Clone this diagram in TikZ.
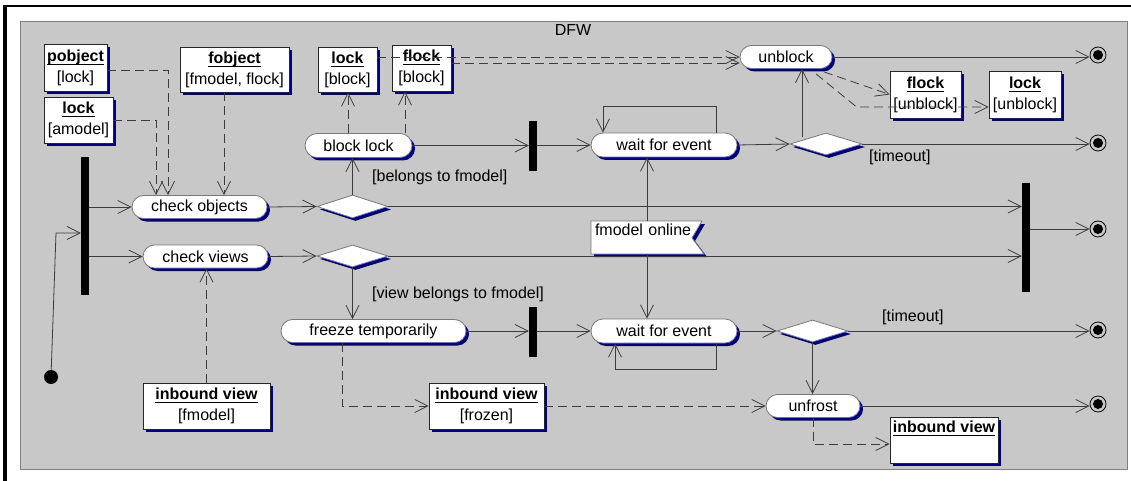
\documentclass[tikz,border=0pt]{standalone}
\usepackage{fontspec}
\setmainfont{Liberation Sans}
\usetikzlibrary{arrows.meta,shapes.misc,shapes.geometric,shadows,calc}

\definecolor{panelgray}{RGB}{200,200,200}
\definecolor{panelline}{RGB}{128,128,128}
\definecolor{shadowblue}{RGB}{0,0,128}
\definecolor{wire}{RGB}{60,60,60}
\definecolor{rimgray}{RGB}{120,120,120}

% bold object name with a rule underneath
\newcommand\objtitle[1]{\setbox0=\hbox{\bfseries #1}\leavevmode\rlap{\rule[-3pt]{\wd0}{0.6pt}}\box0}

\tikzset{
  uml/.style={font=\fontsize{16}{21}\selectfont},
  navyshadow/.style={drop shadow={shadow xshift=3pt,shadow yshift=-3pt,fill=shadowblue,opacity=1}},
  activity/.style={rounded rectangle, draw=rimgray, line width=0.8pt, fill=white, inner sep=0pt, navyshadow},
  objbox/.style={rectangle, draw=black!85, line width=0.8pt, fill=white, inner sep=0pt, align=center, navyshadow},
  choice/.style={diamond, draw=rimgray, line width=0.8pt, fill=white, inner sep=0pt, navyshadow},
  syncbar/.style={rectangle, fill=black, inner sep=0pt, minimum width=8pt},
  startdot/.style={circle, fill=black, inner sep=0pt, minimum size=14pt},
  enddot/.style={circle, draw=black, line width=0.8pt, inner sep=0pt, minimum size=16pt,
    path picture={\fill[black] (path picture bounding box.center) circle (5pt);}},
  flow/.style={draw=wire, line width=0.8pt, -{Straight Barb[length=13pt,width=13pt,line width=0.8pt]}},
  objflow/.style={flow, dash pattern=on 9pt off 5pt},
  guard/.style={anchor=west, inner sep=0pt},
}

\begin{document}
\begin{tikzpicture}[x=1pt,y=-1pt,uml]
\useasboundingbox (0,0) rectangle (1131,481);
\fill[white] (0,0) rectangle (1131,481);
\draw[line width=2.5pt] (3,6) -- (1131,6);
\draw[line width=3.5pt] (5,4.75) -- (5,481);
\draw[panelline, fill=panelgray, line width=1pt] (20,22) rectangle (1127,469);
\node (title) at (573,30) {DFW};

% signal flag
\fill[shadowblue] (594,224) -- (705,224) -- (695,241) -- (707,257) -- (594,257) -- cycle;
\draw[rimgray, fill=white, line width=0.8pt] (591,221) -- (702,221) -- (692,238) -- (704,254) -- (591,254) -- cycle;
\node[inner sep=0pt, minimum width=113pt, minimum height=33pt, text width=104pt, align=left,
      text height=11pt, text depth=16pt] (online) at (647,237.5) {fmodel online};

% activities
\node[activity, minimum width=135pt, minimum height=23pt] (cobj) at (199.5,207) {check objects};
\node[activity, minimum width=125pt, minimum height=23pt] (cview) at (205.5,256.5) {check views};
\node[activity, minimum width=107pt, minimum height=24pt] (blockl) at (358.5,145.5) {block lock};
\node[activity, minimum width=146pt, minimum height=24pt] (waitT) at (664,145) {wait for event};
\node[activity, minimum width=92pt, minimum height=23pt] (unblock) at (786,57) {unblock};
\node[activity, minimum width=185pt, minimum height=23pt] (freeze) at (373.5,331) {freeze temporarily};
\node[activity, minimum width=146pt, minimum height=24pt] (waitB) at (664,331) {wait for event};
\node[activity, minimum width=94pt, minimum height=23pt] (unfrost) at (813,406) {unfrost};

% decisions
\node[choice, minimum width=71pt, minimum height=23pt] (D1) at (352.5,206.5) {};
\node[choice, minimum width=71pt, minimum height=22pt] (D2) at (352.5,256) {};
\node[choice, minimum width=72pt, minimum height=22pt] (D3) at (826,144) {};
\node[choice, minimum width=71pt, minimum height=22pt] (D4) at (812.5,331) {};

% synchronisation bars
\node[syncbar, minimum height=138pt] (fork) at (85,226) {};
\node[syncbar, minimum height=50pt] (bar1) at (533,146) {};
\node[syncbar, minimum height=50pt] (bar2) at (533,332) {};
\node[syncbar, minimum height=109pt] (join) at (1026,237.5) {};

% start and end states
\node[startdot] (init) at (51,377) {};
\node[enddot] (fin1) at (1098,55) {};
\node[enddot] (fin2) at (1098,143) {};
\node[enddot] (fin3) at (1098,229) {};
\node[enddot] (fin4) at (1098,330) {};
\node[enddot] (fin5) at (1098,404) {};

% object nodes
\node[objbox, minimum width=63pt, minimum height=47pt] (pobj) at (75.5,67.5) {\objtitle{pobject}\\{}[lock]};
\node[objbox, minimum width=69pt, minimum height=46pt] (lockA) at (78.5,120) {\objtitle{lock}\\{}[amodel]};
\node[objbox, minimum width=109pt, minimum height=45pt] (fobj) at (234.5,69.5) {\objtitle{fobject}\\{}[fmodel, flock]};
\node[objbox, minimum width=59pt, minimum height=45pt] (lockB) at (347.5,69.5) {\objtitle{lock}\\{}[block]};
\node[objbox, minimum width=59pt, minimum height=46pt] (flockB) at (421.5,68) {\objtitle{flock}\\{}[block]};
\node[objbox, minimum width=71pt, minimum height=47pt] (flockU) at (925.5,94.5) {\objtitle{flock}\\{}[unblock]};
\node[objbox, minimum width=72pt, minimum height=47pt] (lockU) at (1025,94.5) {\objtitle{lock}\\{}[unblock]};
\node[objbox, minimum width=127pt, minimum height=46pt] (ivF) at (206.5,406) {\objtitle{inbound view}\\{}[fmodel]};
\node[objbox, minimum width=115pt, minimum height=46pt] (ivZ) at (486.5,406) {\objtitle{inbound view}\\{}[frozen]};
\node[objbox, minimum width=108pt, minimum height=46pt] (ivE) at (944,440) {\objtitle{inbound view}\\{}\strut};

% guards
\node[guard] (g1) at (372,177) {[belongs to fmodel]};
\node[guard] (g2) at (372,294.5) {[view belongs to fmodel]};
\node[guard] (g3) at (869,157.5) {[timeout]};
\node[guard] (g4) at (882,317.5) {[timeout]};

% control flow
\coordinate (ibend) at (56,233);
\draw[flow] (init) -- (ibend) -- (ibend -| fork.west);
\draw[flow] (fork.east |- cobj.west) -- (cobj.west);
\draw[flow] (fork.east |- cview.west) -- (cview.west);
\draw[flow] (cobj.east) -- (D1.west);
\draw[flow] (cview.east) -- (D2.west);
\draw[flow] (D1.north) -- (D1.north |- blockl.south);
\draw[flow] (D1.east) -- (D1.east -| join.west);
\draw[flow] (D2.east) -- (D2.east -| join.west);
\draw[flow] (D2.south) -- (D2.south |- freeze.north);
\draw[flow] (blockl.east) -- (blockl.east -| bar1.west);
\draw[flow] (bar1.east |- waitT.west) -- (waitT.west);
\draw[flow] ([xshift=52pt]waitT.north) -- ++(0,-26) -| ([xshift=-61pt]waitT.north);
\draw[flow] (waitT.east) -- (D3.west);
\coordinate (d3up) at ([xshift=-24pt,yshift=-4pt]D3.north);
\draw[flow] (d3up) -- (d3up |- unblock.south);
\draw[flow] (D3.east) -- (D3.east -| fin2.west);
\draw[flow] (unblock.east) -- (unblock.east -| fin1.west);
\draw[flow] (online.north) -- (online.north |- waitT.south);
\draw[flow] (online.south) -- (online.south |- waitB.north);
\draw[flow] (freeze.east) -- (freeze.east -| bar2.west);
\draw[flow] (bar2.east |- waitB.west) -- (waitB.west);
\draw[flow] ([xshift=52pt]waitB.south) -- ++(0,26) -| ([xshift=-49pt]waitB.south);
\draw[flow] (waitB.east) -- (D4.west);
\draw[flow] (D4.east) -- (D4.east -| fin4.west);
\draw[flow] (D4.south) -- (D4.south |- unfrost.north);
\draw[flow] (unfrost.east) -- (unfrost.east -| fin5.west);
\draw[flow] (join.east |- fin3.west) -- (fin3.west);

% object flow
\draw[objflow] ([yshift=-2.5pt]pobj.east) -| ([xshift=-31.5pt]cobj.north);
\draw[objflow] (lockA.east) -| ([xshift=-43.5pt]cobj.north);
\draw[objflow] ([xshift=-10.5pt]fobj.south) -- ([xshift=-10.5pt]fobj.south |- cobj.north);
\draw[objflow] (ivF.north) -- (ivF.north |- cview.south);
\draw[objflow] ([xshift=-10.5pt]blockl.north) -- ([xshift=-10.5pt]blockl.north |- lockB.south);
\draw[objflow] ([xshift=46.5pt]blockl.north) -- ([xshift=46.5pt]blockl.north |- flockB.south);
\draw[objflow] (lockB.east |- unblock.west) -- (unblock.west);
\coordinate (ubin) at ([yshift=-6pt]unblock.west);
\draw[objflow] (flockB.east |- ubin) -- (ubin);
\draw[objflow] ([xshift=38pt,yshift=-3pt]unblock.south) -- (flockU.west);
\draw[objflow] ([xshift=30pt,yshift=-5pt]unblock.south) -- ([xshift=-33pt,yshift=-12.5pt]flockU.west) -- ([yshift=-12.5pt]lockU.west);
\draw[objflow] ([xshift=-31.5pt]freeze.south) |- (ivZ.west);
\draw[objflow] (ivZ.east) -- (ivZ.east -| unfrost.west);
\draw[objflow] (unfrost.south) |- ([yshift=-4pt]ivE.west);
\end{tikzpicture}
\end{document}
